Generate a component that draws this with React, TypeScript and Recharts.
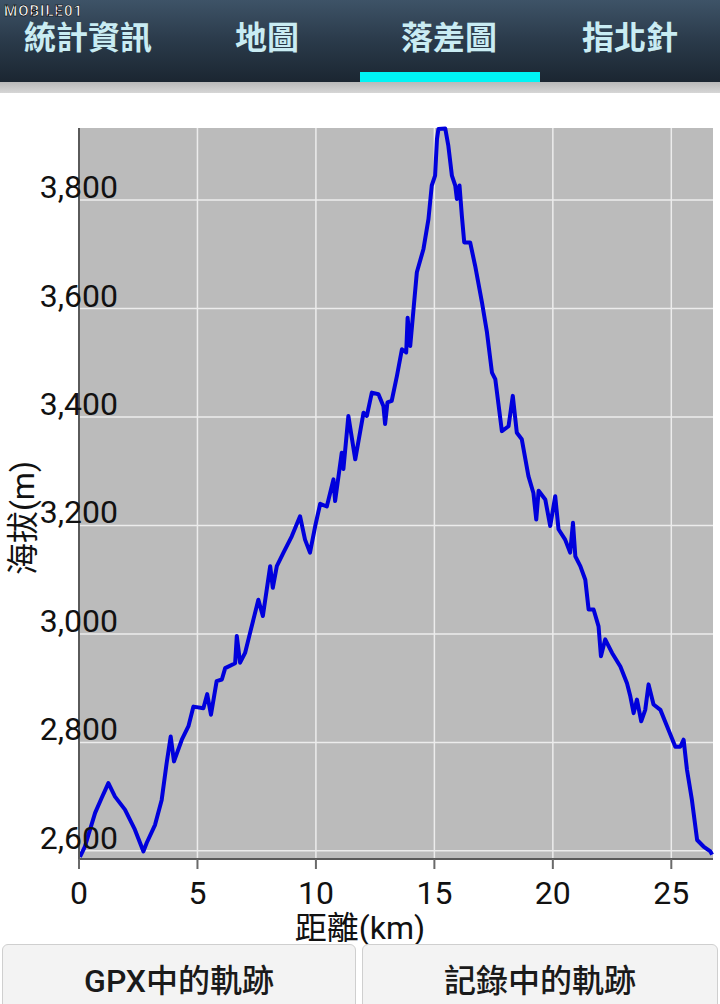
import { CartesianGrid, Line, LineChart, XAxis, YAxis } from "recharts"

// distance along track (km) and elevation (m)
const distanceKm = [
  0.04, 0.25, 0.68, 0.96, 1.24, 1.52, 1.94, 2.36, 2.72, 2.86, 3.21, 3.49, 3.7, 3.87, 4.01, 4.34, 4.62,
  4.83, 5.25, 5.41, 5.57, 5.81, 6.03, 6.17, 6.59, 6.66, 6.8, 7.01, 7.22, 7.57, 7.76, 8.07, 8.18, 8.35,
  8.63, 8.98, 9.33, 9.54, 9.75, 9.97, 10.18, 10.46, 10.74, 10.81, 11.09, 11.16, 11.37, 11.66, 12.01,
  12.15, 12.36, 12.64, 12.85, 12.92, 13.02, 13.2, 13.42, 13.63, 13.81, 13.87, 13.98, 14.12, 14.26,
  14.54, 14.75, 14.89, 15.03, 15.11, 15.17, 15.46, 15.59, 15.74, 15.88, 15.95, 16.06, 16.16, 16.26,
  16.51, 16.72, 17.01, 17.22, 17.43, 17.57, 17.85, 18.13, 18.31, 18.48, 18.69, 18.97, 19.18, 19.3,
  19.4, 19.68, 19.89, 20.1, 20.24, 20.52, 20.73, 20.85, 20.95, 21.16, 21.37, 21.51, 21.72, 21.93,
  22.03, 22.21, 22.5, 22.85, 23.13, 23.27, 23.41, 23.55, 23.73, 23.9, 24.04, 24.25, 24.54, 24.82,
  25.17, 25.38, 25.52, 25.66, 25.87, 26.09, 26.36, 26.65, 26.72,
]

const elevationM = [
  2589, 2608, 2670, 2698, 2725, 2700, 2676, 2639, 2599, 2615, 2648, 2694, 2762, 2811, 2765, 2805, 2830,
  2866, 2863, 2889, 2851, 2913, 2916, 2937, 2946, 2996, 2947, 2965, 3002, 3063, 3033, 3125, 3085, 3125,
  3150, 3180, 3217, 3174, 3150, 3199, 3240, 3235, 3285, 3245, 3334, 3304, 3402, 3322, 3408,
  3402, 3445, 3442, 3420, 3387, 3427, 3430, 3476, 3525, 3519, 3583, 3531, 3599, 3667,
  3710, 3765, 3827, 3845, 3913, 3931, 3932, 3900, 3845, 3827, 3802, 3827, 3771, 3722,
  3722, 3679, 3611, 3556, 3482, 3470, 3374, 3383, 3439, 3371, 3359, 3291, 3260, 3211,
  3264, 3248, 3199, 3254, 3193, 3174, 3150, 3205, 3143, 3125, 3100, 3045, 3045, 3014,
  2959, 2990, 2965, 2940, 2909, 2885, 2854, 2879, 2839, 2860, 2907, 2870, 2860, 2830,
  2792, 2792, 2805, 2750, 2694, 2620, 2608, 2599, 2593,
]

const xTicks = [0, 5, 10, 15, 20, 25]
const yTicks = [2600, 2800, 3000, 3200, 3400, 3600, 3800]
const tabs = ["統計資訊", "地圖", "落差圖", "指北針"]
const tabCenters = [88, 267, 449, 630]

const data = distanceKm.map((km, i) => ({ km, elev: elevationM[i] }))

const FONT = "Roboto, 'Noto Sans CJK TC', sans-serif"

// y labels sit on top of the grid line, right-aligned inside the plot
function renderYTick(props: any) {
  const { y, payload } = props
  return (
    <text x={118} y={y - 2} textAnchor="end" fontSize={32} fill="#111" fontFamily={FONT}>
      {Number(payload.value).toLocaleString("en-US")}
    </text>
  )
}

function renderXTick(props: any) {
  const { x, payload } = props
  return (
    <text x={x} y={904} textAnchor="middle" fontSize={32} fill="#111" fontFamily={FONT}>
      {payload.value}
    </text>
  )
}

export default function App() {
  return (
    <div style={{ position: "absolute", left: 0, top: 0, width: 720, height: 1004, background: "#fff", overflow: "hidden", fontFamily: FONT }}>
      <div style={{ position: "absolute", left: 0, top: 0 }}>
        <LineChart width={720} height={940} data={data} margin={{ top: 128, right: 7, bottom: 41, left: 39 }}>
          <CartesianGrid fill="#bbbbbb" stroke="#ececec" strokeWidth={1.5} horizontalValues={yTicks} verticalValues={xTicks} />
          <XAxis
            type="number"
            dataKey="km"
            domain={[0, 26.76]}
            ticks={xTicks}
            height={40}
            tickSize={10}
            tickMargin={0}
            axisLine={{ stroke: "#5a5a5a", strokeWidth: 2 }}
            tickLine={{ stroke: "#6a6a6a", strokeWidth: 2 }}
            tick={renderXTick}
            interval={0}
          />
          <YAxis
            type="number"
            domain={[2585, 3933]}
            ticks={yTicks}
            width={40}
            tickSize={0}
            tickMargin={0}
            axisLine={{ stroke: "#5a5a5a", strokeWidth: 2 }}
            tickLine={false}
            tick={renderYTick}
            interval={0}
          />
          <Line type="linear" dataKey="elev" stroke="#0000dc" strokeWidth={4} dot={false} strokeLinejoin="round" isAnimationActive={false} />
        </LineChart>
      </div>

      {/* axis titles */}
      <div style={{ position: "absolute", left: 0, top: 912, width: 720, textAlign: "center", fontSize: 32, lineHeight: "32px", color: "#111" }}>
        距離(km)
      </div>
      <div style={{ position: "absolute", left: 23, top: 518, transform: "translate(-50%, -50%) rotate(-90deg)", fontSize: 32, lineHeight: "36px", color: "#111", whiteSpace: "nowrap" }}>
        海拔(m)
      </div>

      {/* tab bar */}
      <div style={{ position: "absolute", left: 0, top: 0, width: 720, height: 82, background: "linear-gradient(#3e5367, #2a3a4a 50%, #1b2631)" }} />
      {tabs.map((t, i) => (
        <div key={t} style={{ position: "absolute", left: tabCenters[i] - 100, top: 18, width: 200, textAlign: "center", fontSize: 32, fontWeight: 700, lineHeight: "40px", color: "#c9ecf3" }}>
          {t}
        </div>
      ))}
      <div style={{ position: "absolute", left: 360, top: 72, width: 180, height: 10, background: "#00f4f4" }} />
      <div style={{ position: "absolute", left: 0, top: 82, width: 720, height: 11, background: "linear-gradient(#b9b9b9, #d6d6d6)" }} />
      <div style={{ position: "absolute", left: 4, top: 2, fontSize: 15, fontWeight: 700, letterSpacing: 1, color: "#fff", WebkitTextStroke: "0.6px #000" }}>
        MOBILE01
      </div>

      {/* bottom buttons */}
      <div style={{ position: "absolute", left: 2, top: 944, width: 352, height: 70, background: "#f3f3f3", border: "1px solid #cfcfcf", borderRadius: 6, textAlign: "center", fontSize: 32, lineHeight: "72px", color: "#1a1a1a", fontWeight: 500 }}>
        GPX中的軌跡
      </div>
      <div style={{ position: "absolute", left: 362, top: 944, width: 354, height: 70, background: "#f3f3f3", border: "1px solid #cfcfcf", borderRadius: 6, textAlign: "center", fontSize: 32, lineHeight: "72px", color: "#1a1a1a", fontWeight: 500 }}>
        記錄中的軌跡
      </div>
    </div>
  )
}
